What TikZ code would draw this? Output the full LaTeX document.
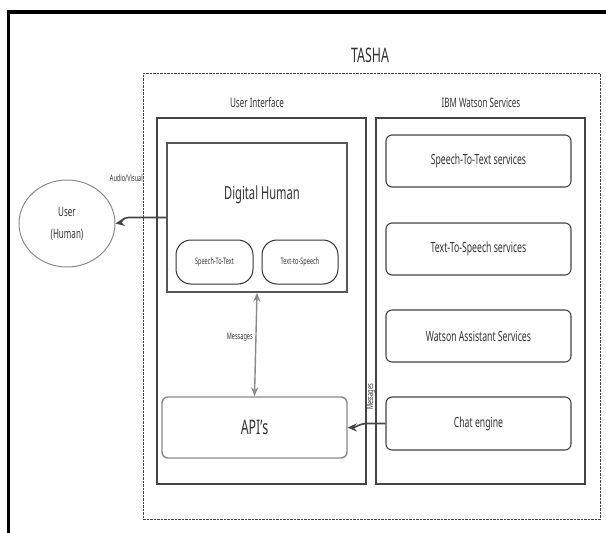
\documentclass[tikz,border=0pt]{standalone}
\usepackage{fontspec}
\setmainfont{Noto Sans}[FakeStretch=0.62]
\usetikzlibrary{arrows.meta,shapes.geometric}
\definecolor{txt}{HTML}{333333}
\definecolor{edge}{HTML}{444444}
\definecolor{lightedge}{HTML}{8A8A8A}
\tikzset{
  fs/.style={font=\fontsize{#1}{#1}\selectfont},
  lbl/.style={text=txt, inner sep=0pt},
  group/.style={draw=edge, line width=1.4pt, inner sep=0pt},
  svc/.style={draw=edge, line width=1.1pt, rounded corners=6pt, inner sep=0pt, minimum width=185pt, minimum height=52pt, text=txt, fs=14},
  pill/.style={draw=txt, line width=1pt, rounded corners=15pt, inner sep=0pt, minimum height=44pt, text=txt, fs=9},
  arr/.style={line width=1.6pt, draw=edge, -{Stealth[length=9pt,width=8pt]}},
  garr/.style={line width=1.4pt, draw=lightedge, {Stealth[length=9pt,width=7pt]}-{Stealth[length=9pt,width=7pt]}},
}
\begin{document}
\begin{tikzpicture}[x=1pt,y=-1pt]
\useasboundingbox (0,0) rectangle (606,533);
% outer frame
\draw[line width=3.5pt] (8.5,533) -- (8.5,12) -- (606,12);
% TASHA
\node[draw=edge, line width=1pt, dash pattern=on 2.5pt off 1pt, inner sep=0pt, minimum width=457pt, minimum height=446pt] (tasha) at (371.5,296) {};
\node[lbl, fs=20] (tashal) at (370,55) {TASHA};
% groups
\node[group, minimum width=209pt, minimum height=366pt] (ui) at (261.5,301) {};
\node[group, minimum width=209pt, minimum height=366pt] (ibm) at (480.5,301) {};
\node[lbl, fs=13] (uil) at (257,103) {User Interface};
\node[lbl, fs=13] (ibml) at (481,103) {IBM Watson Services};
% digital human
\node[draw=edge!90, line width=1.4pt, inner sep=0pt, minimum width=180pt, minimum height=149pt] (dh) at (257,217.5) {};
\node[lbl, fs=18] (dhl) at (262,195) {Digital Human};
\node[pill, minimum width=77pt] (p1) at (214.5,262) {Speech-To-Text};
\node[pill, minimum width=76pt] (p2) at (300,262) {Text-to-Speech};
% API
\node[draw=lightedge, line width=1.4pt, rounded corners=6pt, inner sep=0pt, minimum width=185pt, minimum height=61pt, text=txt, fs=20] (api) at (254.5,427.5) {API\char39 s};
% Watson services
\node[svc] (stt) at (478.5,161) {Speech-To-Text services};
\node[svc] (tts) at (478.5,249) {Text-To-Speech services};
\node[svc] (was) at (478.5,336) {Watson Assistant Services};
\node[svc, minimum height=53pt] (chat) at (478.5,423.5) {Chat engine};
% user
\node[draw=lightedge, line width=1pt, ellipse, inner sep=0pt, minimum width=96pt, minimum height=87pt] (user) at (67,223.5) {};
\node[lbl, fs=13] (userl1) at (67,212) {User};
\node[lbl, fs=13] (userl2) at (67,235) {(Human)};
% connectors
\draw[arr] (dh.west) -- ++(-38,0) to[out=180,in=10] (user.east);
\node[lbl, fs=9, anchor=east] (av) at (143,178) {Audio/Visual};
\draw[garr] (dh.south) -- (api.north);
\node[lbl, fs=9, anchor=east] (msg1) at (253,337) {Messages};
\draw[arr] (chat.west) -- ++(-18,0) to[out=180,in=0] (api.east);
\node[lbl, fs=9, rotate=90] (msg2) at (371,397) {Messages};
\end{tikzpicture}
\end{document}
